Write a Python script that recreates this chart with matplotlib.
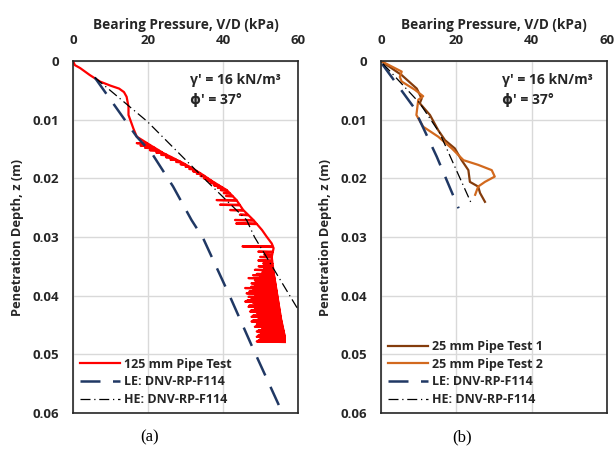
import matplotlib.pyplot as plt
import numpy as np

plt.rcParams['font.family'] = ['Open Sans', 'DejaVu Sans']

# ---- panel (a): 125 mm pipe ----
red_z = [0, 0.0007, 0.0012, 0.0024, 0.0035, 0.0042, 0.0047, 0.0053, 0.0061, 0.0078,
         0.0092, 0.0106, 0.0115, 0.0129, 0.0143, 0.0157, 0.0174, 0.0191, 0.0206,
         0.0220, 0.0237, 0.0254, 0.0271, 0.0288, 0.0299, 0.0311, 0.0319, 0.0334,
         0.0360, 0.0400, 0.0440, 0.0470, 0.0478]
red_p = [0, 0.5, 1.9, 4.5, 7.2, 10.0, 12.3, 13.6, 14.3, 14.8,
         14.8, 15.6, 16.1, 17.0, 20.5, 24.1, 29.4, 33.9, 37.4,
         41.0, 43.6, 45.4, 48.1, 50.4, 51.6, 53.0, 53.5, 53.0,
         53.5, 54.5, 55.5, 56.5, 56.5]

# leftward excursions of the noisy record (depth, pressure at spike tip)
spike_z = [0.0140, 0.0144, 0.0148, 0.0152, 0.0156, 0.0160, 0.0164, 0.0168, 0.0172,
           0.0176, 0.0180, 0.0184, 0.0188, 0.0192, 0.0196, 0.0200, 0.0204, 0.0208,
           0.0212, 0.0216, 0.0220, 0.0225, 0.0230,
           0.0237, 0.0245, 0.0254, 0.0262, 0.0271, 0.0277,
           0.0316, 0.0325, 0.0330, 0.0334, 0.0340, 0.0345, 0.0350, 0.0353, 0.0356,
           0.0360, 0.0363, 0.0365, 0.0368, 0.0370, 0.0372, 0.0374, 0.0377, 0.0379,
           0.0381, 0.0383, 0.0385, 0.0387, 0.0389, 0.0391, 0.0393, 0.0396, 0.0398,
           0.0400, 0.0402, 0.0404, 0.0406, 0.0408, 0.0410, 0.0412, 0.0414, 0.0417,
           0.0419, 0.0421, 0.0423, 0.0425, 0.0427, 0.0429, 0.0431, 0.0434, 0.0436,
           0.0438, 0.0440, 0.0442, 0.0444, 0.0446, 0.0448, 0.0450, 0.0453, 0.0455,
           0.0457, 0.0459, 0.0461, 0.0463, 0.0465, 0.0467, 0.0470, 0.0472, 0.0474,
           0.0476, 0.0478]
spike_p = [17.0, 18.0, 19.2, 20.5, 22.2, 23.5, 24.8, 26.0, 27.5,
           28.7, 30.0, 31.0, 32.0, 33.0, 34.0, 34.9, 35.8, 36.6,
           37.6, 38.6, 39.4, 40.2, 40.8,
           38.3, 39.2, 41.9, 44.5, 43.2, 43.5,
           45.2, 49.4, 51.0, 49.9, 49.4, 50.7, 49.5, 51.0, 48.5,
           50.5, 49.0, 48.0, 50.0, 46.8, 49.5, 48.5, 50.0, 47.6,
           49.0, 48.5, 47.5, 45.9, 49.0, 48.0, 47.0, 46.3, 48.5,
           49.0, 46.8, 48.0, 47.5, 46.5, 45.9, 48.0, 48.5, 47.0,
           46.8, 48.5, 49.0, 47.5, 47.2, 49.0, 49.5, 48.0, 47.6,
           49.5, 49.5, 48.0, 47.6, 49.0, 50.0, 49.0, 48.5, 50.5,
           50.5, 49.5, 49.0, 50.0, 50.5, 49.5, 49.0, 50.0, 50.0,
           49.5, 49.0]

le_a_z = [0.0028, 0.0129, 0.0157, 0.0214, 0.0271, 0.0302, 0.0402, 0.0490, 0.0595]
le_a_p = [5.8, 17.0, 21.0, 26.7, 31.6, 34.7, 41.9, 48.0, 55.5]
he_a_z = [0.0028, 0.0103, 0.0203, 0.0271, 0.0300, 0.0419, 0.0422]
he_a_p = [5.8, 19.8, 35.4, 46.3, 48.4, 59.6, 60.0]

# ---- panel (b): 25 mm pipe ----
t1_z = [0, 0.0024, 0.0047, 0.0064, 0.0072, 0.0092, 0.0118, 0.0135, 0.0149, 0.0169,
        0.0186, 0.0206, 0.0214, 0.0225, 0.0240]
t1_p = [0, 5.5, 9.5, 10.8, 10.3, 13.0, 15.2, 17.0, 19.6, 21.4,
        23.2, 23.6, 25.8, 26.3, 27.6]
t2_z = [0, 0.0018, 0.0027, 0.0035, 0.0049, 0.0060, 0.0066, 0.0092, 0.0112, 0.0129,
        0.0149, 0.0169, 0.0177, 0.0186, 0.0197, 0.0206, 0.0214, 0.0228]
t2_p = [0, 5.5, 5.0, 5.5, 9.0, 11.2, 9.9, 9.4, 11.2, 15.2,
        18.8, 21.9, 25.8, 29.4, 30.2, 27.6, 25.8, 25.0]
le_b_z = [0.0005, 0.0078, 0.0163, 0.0251]
le_b_p = [0.3, 8.6, 14.8, 20.6]
he_b_z = [0.0005, 0.0072, 0.0123, 0.0243]
he_b_p = [0.6, 10.3, 15.6, 24.0]

xticks = [0, 20, 40, 60]
yticks = [0, 0.01, 0.02, 0.03, 0.04, 0.05, 0.06]
ytick_labels = ['0', '0.01', '0.02', '0.03', '0.04', '0.05', '0.06']

TXT = '#262626'


def noisy_record(mz, mp, sz, sp):
    pts = list(zip(mz, mp))
    for z, p in zip(sz, sp):
        pts.append((z - 0.00001, np.interp(z, mz, mp)))
        pts.append((z, p))
        pts.append((z + 0.0001, np.interp(z + 0.0001, mz, mp)))
    pts.sort(key=lambda t: t[0])
    zz, pp = zip(*pts)
    return np.array(pp), np.array(zz)


def style_axes(ax, tx):
    ax.set_xlim(0, 60)
    ax.set_ylim(0.06, 0)
    ax.xaxis.tick_top()
    ax.xaxis.set_label_position('top')
    ax.set_xticks(xticks)
    ax.set_yticks(yticks)
    ax.set_yticklabels(ytick_labels)
    ax.tick_params(length=0, labelsize=9.5, pad=10, labelcolor=TXT)
    for lab in ax.get_xticklabels() + ax.get_yticklabels():
        lab.set_fontweight('bold')
    ax.grid(color='#d9d9d9', linewidth=1)
    ax.set_axisbelow(True)
    for s in ax.spines.values():
        s.set_color(TXT)
        s.set_linewidth(1.2)
    ax.set_xlabel('Bearing Pressure, V/D (kPa)', fontsize=9.8, fontweight='bold',
                  labelpad=4, color=TXT)
    ax.set_ylabel('Penetration Depth, z (m)', fontsize=9.3, fontweight='bold',
                  labelpad=6, color=TXT)
    ax.text(tx, 0.946, "γ' = 16 kN/m³", transform=ax.transAxes, va='center',
            fontsize=10, fontweight='bold', color=TXT)
    ax.text(tx, 0.889, "ϕ' = 37°", transform=ax.transAxes, va='center',
            fontsize=10, fontweight='bold', color=TXT)


fig = plt.figure(figsize=(6.14, 4.5), dpi=100)
ax1 = fig.add_axes([0.1189, 0.0822, 0.3664, 0.7822])
ax2 = fig.add_axes([0.6205, 0.0822, 0.3681, 0.7822])

rp, rz = noisy_record(red_z, red_p, spike_z, spike_p)
ax1.plot(rp, rz, color='#ff0000', lw=1.6, label='125 mm Pipe Test')
ax1.plot(le_a_p, le_a_z, color='#203864', lw=1.8, dashes=(8, 5), label='LE: DNV-RP-F114')
ax1.plot(he_a_p, he_a_z, color='black', lw=0.9, dashes=(8, 3, 1, 3), label='HE: DNV-RP-F114')
style_axes(ax1, 0.52)

ax2.plot(t1_p, t1_z, color='#843c0c', lw=1.6, label='25 mm Pipe Test 1')
ax2.plot(t2_p, t2_z, color='#d2691e', lw=1.6, label='25 mm Pipe Test 2')
ax2.plot(le_b_p, le_b_z, color='#203864', lw=1.8, dashes=(8, 5), label='LE: DNV-RP-F114')
ax2.plot(he_b_p, he_b_z, color='black', lw=0.9, dashes=(8, 3, 1, 3), label='HE: DNV-RP-F114')
style_axes(ax2, 0.535)

for ax in (ax1, ax2):
    leg = ax.legend(loc='lower left', frameon=False, fontsize=9,
                    handlelength=3.2, handletextpad=0.3, labelspacing=0.38,
                    borderaxespad=0.15)
    for t in leg.get_texts():
        t.set_fontweight('bold')
        t.set_color(TXT)

fig.text(0.244, 0.029, '(a)', fontsize=12, family='Liberation Serif',
         ha='center', va='center')
fig.text(0.752, 0.029, '(b)', fontsize=12, family='Liberation Serif',
         ha='center', va='center')

fig.savefig('out.png', dpi=100)
